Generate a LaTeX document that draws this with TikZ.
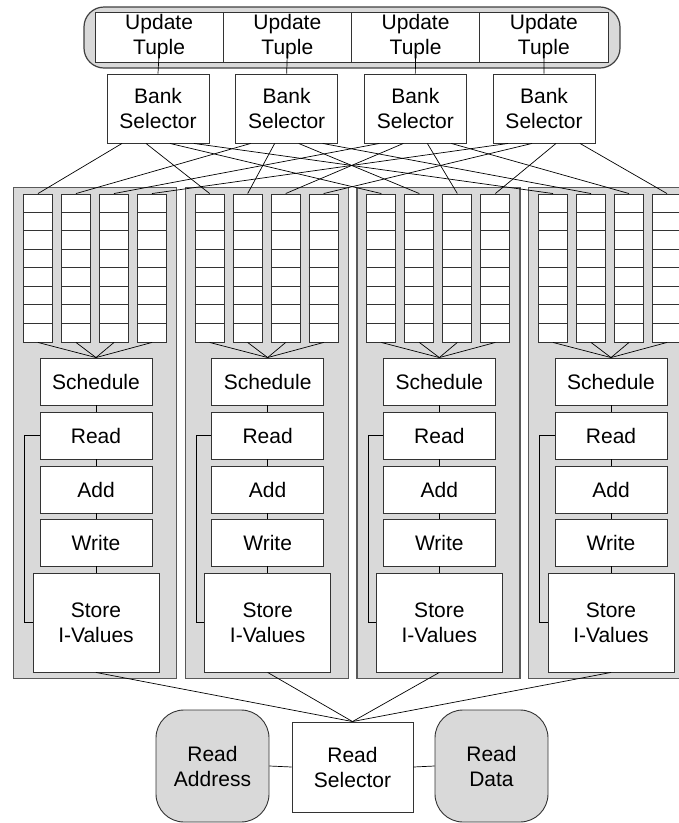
\documentclass[tikz,border=0pt]{standalone}
\usepackage{fontspec}
\setmainfont{Liberation Sans}
\begin{document}
\begin{tikzpicture}[x=1pt,y=-1pt,
  font=\fontsize{21}{25}\selectfont,
  box/.style={draw=black!80, fill=white, line width=0.9pt, align=center, inner sep=0pt},
  wire/.style={draw=black, line width=0.7pt},
  panel/.style={draw=black!65, fill=black!15, line width=1.2pt, inner sep=0pt},
  qcol/.style={draw=black!80, fill=white, line width=0.9pt, inner sep=0pt,
    minimum width=29pt, minimum height=148pt},
  qsep/.style={draw=black!80, line width=0.9pt},
  roundbox/.style={box, fill=black!15, rounded corners=28pt}]

\useasboundingbox (0,0) rectangle (679,823);

% update tuple bar
\node[draw=black!75, fill=black!15, rounded corners=20pt, line width=1.2pt,
      minimum width=536pt, minimum height=61pt] (tuplebar) at (352,37.5) {};
\foreach \i in {0,...,3}
  \node[box, minimum width=128.25pt, minimum height=50pt] (ut\i)
    at ({159.1+128.25*\i},37) {Update\\Tuple};

% bank selectors
\foreach \i in {0,...,3} {
  \node[box, minimum width=102pt, minimum height=69pt] (bs\i)
    at ({158+128.67*\i},108.5) {Bank\\Selector};
  \draw[wire] ([yshift=10pt]ut\i.south) -- (bs\i.north);
}

% banks
\foreach \j in {0,...,3} {
  \pgfmathsetmacro\px{13+171.67*\j}
  \node[panel, minimum width=163pt, minimum height=491pt, anchor=north west]
    (pn\j) at (\px,187) {};
  % queues
  \foreach \i in {0,...,3} {
    \node[qcol] (qc-\j-\i) at ({\px+25+38*\i},268) {};
    \foreach \k in {1,...,7}
      \draw[qsep] ([yshift={-18.5*\k}]qc-\j-\i.north west) --
                  ([yshift={-18.5*\k}]qc-\j-\i.north east);
  }
  % pipeline
  \node[box, minimum width=112pt, minimum height=47pt] (sch\j) at ({\px+83},381.5) {Schedule};
  \node[box, minimum width=112pt, minimum height=47pt] (rd\j)  at ({\px+83},435.5) {Read};
  \node[box, minimum width=112pt, minimum height=47pt] (ad\j)  at ({\px+83},489.5) {Add};
  \node[box, minimum width=112pt, minimum height=47pt] (wr\j)  at ({\px+83},542.5) {Write};
  \node[box, minimum width=126pt, minimum height=99pt] (st\j)  at ({\px+83},622.5) {Store\\I-Values};
  \foreach \i in {0,...,3}
    \draw[wire] (qc-\j-\i.south) -- (sch\j.north);
  \draw[wire] (sch\j.south) -- (rd\j.north);
  \draw[wire] (rd\j.south) -- (ad\j.north);
  \draw[wire] (ad\j.south) -- (wr\j.north);
  \draw[wire] (wr\j.south) -- (st\j.north);
  \draw[wire] (rd\j.west) -- ++(-15,0) |- (st\j.west);
}

% selector to queue crossbar
\foreach \i in {0,...,3}
  \foreach \j in {0,...,3}
    \draw[wire] ([xshift={(\j-1.5)*24}]bs\i.south) -- (qc-\j-\i.north);

% read path
\node[box, minimum width=121pt, minimum height=90pt] (rs) at (352.5,767) {Read\\Selector};
\node[roundbox, minimum width=113pt, minimum height=112pt] (ra) at (212.5,766) {Read\\Address};
\node[roundbox, minimum width=113pt, minimum height=112pt] (rdt) at (491.5,766) {Read\\Data};
\draw[wire] (ra.east) -- (rs.west);
\draw[wire] (rs.east) -- (rdt.west);
\foreach \j in {0,...,3}
  \draw[wire] (st\j.south) -- (rs.north);
\end{tikzpicture}
\end{document}
